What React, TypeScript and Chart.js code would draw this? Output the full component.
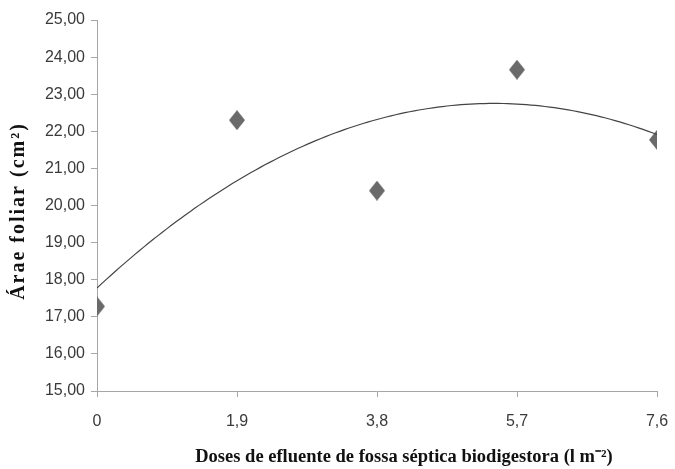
import { useEffect, useRef } from "react";
import { Chart, registerables } from "chart.js";
Chart.register(...registerables);

const doses = [0, 1.9, 3.8, 5.7, 7.6];
const leafArea = [17.28, 22.3, 20.4, 23.66, 21.77];
const xTickValues = [0, 1.9, 3.8, 5.7, 7.6];
const xTickLabels = ["0", "1,9", "3,8", "5,7", "7,6"];
const yTickValues = [15, 16, 17, 18, 19, 20, 21, 22, 23, 24, 25];
const yTitle = "Árae foliar (cm²)";
const xTitle = "Doses de efluente de fossa séptica biodigestora (l m⁻²)";

const tickFont = "'Liberation Sans', sans-serif";
const titleFont = "'Liberation Serif', serif";

// Second-order polynomial trend line (least squares, like a spreadsheet trendline)
function quadFit(xs: number[], ys: number[]) {
  const S = (f: (x: number, y: number) => number) => xs.reduce((s, x, i) => s + f(x, ys[i]), 0);
  const n = xs.length;
  const sx = S((x) => x), sx2 = S((x) => x * x), sx3 = S((x) => x ** 3), sx4 = S((x) => x ** 4);
  const sy = S((_, y) => y), sxy = S((x, y) => x * y), sx2y = S((x, y) => x * x * y);
  const M = [
    [n, sx, sx2, sy],
    [sx, sx2, sx3, sxy],
    [sx2, sx3, sx4, sx2y],
  ];
  for (let i = 0; i < 3; i++) {
    for (let k = i + 1; k < 3; k++) {
      const f = M[k][i] / M[i][i];
      for (let j = i; j < 4; j++) M[k][j] -= f * M[i][j];
    }
  }
  const c = [0, 0, 0];
  for (let i = 2; i >= 0; i--) {
    let s = M[i][3];
    for (let j = i + 1; j < 3; j++) s -= M[i][j] * c[j];
    c[i] = s / M[i][i];
  }
  return c;
}

function makeDiamond() {
  const c = document.createElement("canvas");
  c.width = 16;
  c.height = 20;
  const g = c.getContext("2d")!;
  g.fillStyle = "#6a6a6a";
  g.beginPath();
  g.moveTo(8, 0);
  g.lineTo(16, 10);
  g.lineTo(8, 20);
  g.lineTo(0, 10);
  g.closePath();
  g.fill();
  return c;
}

const axisTitlesPlugin = {
  id: "axisTitlesPlugin",
  afterDraw(chart: any) {
    const ctx = chart.ctx as CanvasRenderingContext2D;
    ctx.save();
    ctx.fillStyle = "#111111";
    ctx.textAlign = "center";
    ctx.textBaseline = "middle";
    // x axis title
    ctx.font = `bold 18.5px ${titleFont}`;
    ctx.fillText(xTitle, 404, 457);
    // y axis title
    ctx.translate(19, 211);
    ctx.rotate(-Math.PI / 2);
    (ctx as any).letterSpacing = "2px";
    ctx.font = `bold 20px ${titleFont}`;
    ctx.fillText(yTitle, 0, 0);
    ctx.restore();
  },
};

export default function App() {
  const ref = useRef<HTMLCanvasElement>(null);
  useEffect(() => {
    const [a, b, c] = quadFit(doses, leafArea);
    const xmin = doses[0], xmax = doses[doses.length - 1];
    const trend: { x: number; y: number }[] = [];
    const steps = 120;
    for (let i = 0; i <= steps; i++) {
      const x = xmin + ((xmax - xmin) * i) / steps;
      trend.push({ x, y: a + b * x + c * x * x });
    }
    const axisColor = "#a6a6a6";
    const chart = new Chart(ref.current!, {
      type: "scatter",
      data: {
        datasets: [
          {
            data: trend,
            showLine: true,
            borderColor: "#444444",
            borderWidth: 1.2,
            pointRadius: 0,
            tension: 0,
          },
          {
            data: doses.map((x, i) => ({ x, y: leafArea[i] })),
            pointStyle: makeDiamond() as any,
            pointRadius: 8,
            backgroundColor: "#6a6a6a",
          },
        ],
      },
      plugins: [axisTitlesPlugin],
      options: {
        responsive: false,
        animation: false,
        layout: { padding: { left: 0, right: 18, top: 20, bottom: 0 } },
        plugins: { legend: { display: false }, tooltip: { enabled: false } },
        scales: {
          x: {
            type: "linear",
            min: 0,
            max: 7.6,
            afterBuildTicks: (s: any) => {
              s.ticks = xTickValues.map((v) => ({ value: v }));
            },
            afterFit: (s: any) => {
              s.height = 78;
              s.paddingRight = 0;
              s.paddingLeft = 0;
            },
            ticks: {
              callback: (v: any) => {
                const i = xTickValues.findIndex((t) => Math.abs(t - Number(v)) < 1e-6);
                return i >= 0 ? xTickLabels[i] : "";
              },
              font: { family: tickFont, size: 16 },
              color: "#3a3a3a",
              padding: 15,
              maxRotation: 0,
            },
            grid: { drawOnChartArea: false, color: axisColor, tickLength: 6, tickColor: axisColor },
            border: { color: axisColor, width: 1 },
          },
          y: {
            type: "linear",
            min: 15,
            max: 25,
            afterBuildTicks: (s: any) => {
              s.ticks = yTickValues.map((v) => ({ value: v }));
            },
            afterFit: (s: any) => {
              s.width = 97;
              s.paddingTop = 0;
              s.paddingBottom = 0;
            },
            ticks: {
              callback: (v: any) => Number(v).toFixed(2).replace(".", ","),
              font: { family: tickFont, size: 16 },
              color: "#3a3a3a",
              padding: 6,
            },
            grid: { drawOnChartArea: false, color: axisColor, tickLength: 6, tickColor: axisColor },
            border: { color: axisColor, width: 1 },
          },
        },
      },
    });
    return () => chart.destroy();
  }, []);
  return (
    <div style={{ position: "fixed", left: 0, top: 0, width: 675, height: 469, background: "#fff" }}>
      <canvas ref={ref} width={675} height={469} style={{ display: "block" }} />
    </div>
  );
}
